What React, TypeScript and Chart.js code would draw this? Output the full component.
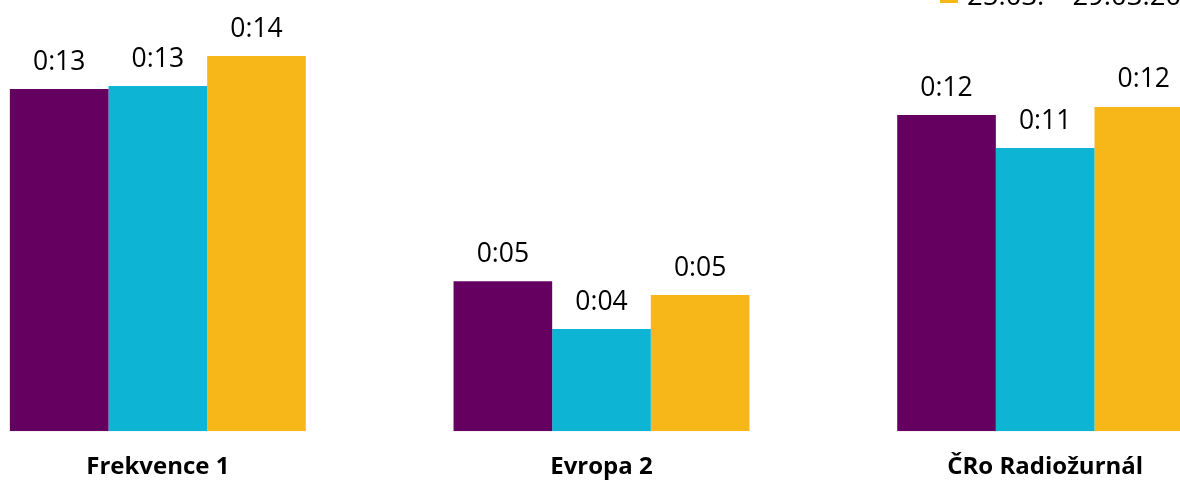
import React, { useEffect, useRef } from "react";
import { Chart, registerables } from "chart.js";

Chart.register(...registerables);

// ---- data ----
const categories = ["Frekvence 1", "Evropa 2", "ČRo Radiožurnál"];
const seriesLabels = ["11.03. – 15.03.2020", "18.03. – 22.03.2020", "25.03. – 29.03.2020"];
// values in minutes
const series1 = [13.57, 5.95, 12.54];
const series2 = [13.69, 4.05, 11.23];
const series3 = [14.88, 5.4, 12.86];
const seriesColors = ["#660060", "#0DB4D3", "#F8B719"];

const fmt = (v: number) => `0:${String(Math.floor(v)).padStart(2, "0")}`;

const FONT = "'Open Sans', sans-serif";

const valueLabels = {
  id: "valueLabels",
  afterDatasetsDraw(chart: any) {
    const ctx = chart.ctx;
    ctx.save();
    ctx.font = `26.5px ${FONT}`;
    ctx.fillStyle = "#000";
    ctx.textAlign = "center";
    ctx.textBaseline = "alphabetic";
    chart.data.datasets.forEach((ds: any, i: number) => {
      chart.getDatasetMeta(i).data.forEach((el: any, j: number) => {
        ctx.fillText(fmt(ds.data[j]), el.x, el.y - 19.5);
      });
    });
    ctx.restore();
  },
};

const cornerLegend = {
  id: "cornerLegend",
  afterDraw(chart: any) {
    const ctx = chart.ctx;
    ctx.save();
    ctx.font = `27.5px ${FONT}`;
    ctx.textAlign = "left";
    ctx.textBaseline = "alphabetic";
    const x = chart.chartArea.right - 327;
    const n = chart.data.datasets.length;
    chart.data.datasets.forEach((ds: any, i: number) => {
      const baseline = 5 - (n - 1 - i) * 36;
      ctx.fillStyle = ds.backgroundColor;
      ctx.fillRect(x, baseline - 20, 18, 18);
      ctx.fillStyle = "#000";
      ctx.fillText(ds.label, x + 27, baseline);
    });
    ctx.restore();
  },
};

export default function App() {
  const ref = useRef<HTMLCanvasElement | null>(null);

  useEffect(() => {
    let chart: Chart | null = null;
    let cancelled = false;
    const build = () => {
      if (cancelled || !ref.current) return;
      const seriesData = [series1, series2, series3];
      chart = new Chart(ref.current, {
        type: "bar",
        data: {
          labels: categories,
          datasets: seriesData.map((d, i) => ({
            label: seriesLabels[i],
            data: d,
            backgroundColor: seriesColors[i],
            borderWidth: 0,
            categoryPercentage: 0.667,
            barPercentage: 1,
          })),
        },
        options: {
          animation: false,
          responsive: false,
          devicePixelRatio: 1,
          layout: { padding: { top: 27.8, left: 0, right: 0, bottom: 0 } },
          scales: {
            x: {
              grid: { display: false, drawTicks: false },
              border: { display: false },
              ticks: {
                padding: 22,
                color: "#000",
                autoSkip: false,
                maxRotation: 0,
                font: { family: FONT, size: 24, weight: "bold" },
              },
            },
            y: { display: false, min: 0, max: 16 },
          },
          plugins: {
            legend: { display: false },
            tooltip: { enabled: false },
          },
        },
        plugins: [valueLabels, cornerLegend],
      });
    };
    const fontsApi = (document as any).fonts;
    if (fontsApi && fontsApi.load) {
      Promise.all([
        fontsApi.load(`26px ${FONT}`),
        fontsApi.load(`bold 24px ${FONT}`),
      ])
        .catch(() => {})
        .then(build);
    } else {
      build();
    }
    return () => {
      cancelled = true;
      if (chart) chart.destroy();
    };
  }, []);

  return (
    <div
      style={{
        position: "fixed",
        left: 0,
        top: 0,
        width: 1180,
        height: 481,
        overflow: "hidden",
        background: "#fff",
      }}
    >
      <canvas
        ref={ref}
        width={1331}
        height={504}
        style={{ position: "absolute", left: -64, top: 0, width: 1331, height: 504 }}
      />
    </div>
  );
}
